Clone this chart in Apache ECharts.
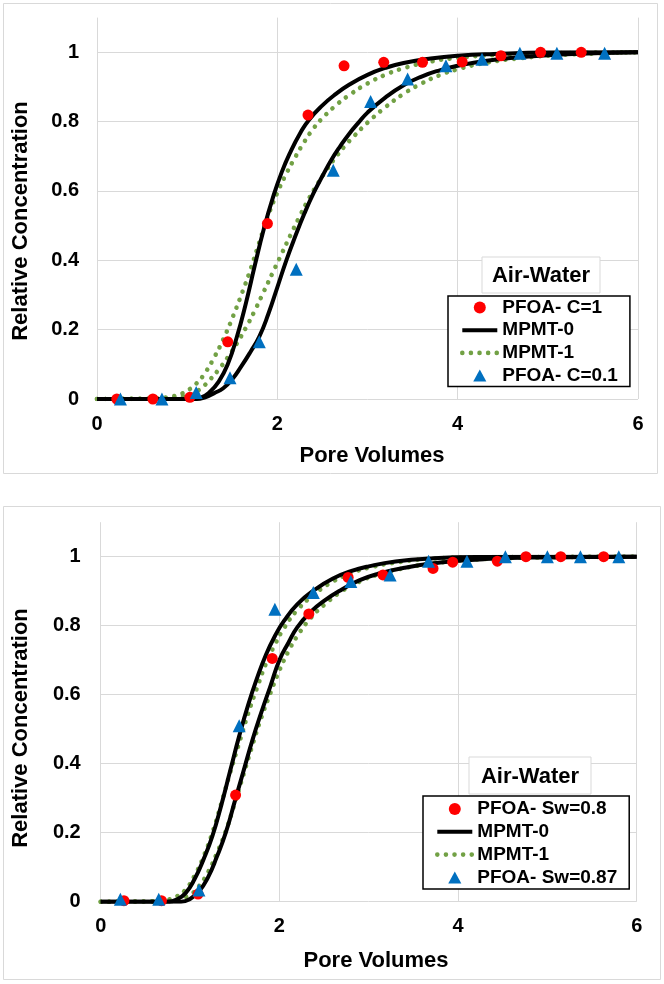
<!DOCTYPE html>
<html>
<head>
<meta charset="utf-8">
<script src="https://cdn.jsdelivr.net/npm/echarts@6/dist/echarts.min.js"></script>
<style>
html,body{margin:0;padding:0;background:#fff;}
#c{width:664px;height:984px;}
</style>
</head>
<body>
<div id="c"></div>
<script>
// ---------- DATA ----------
const xTicks = [0, 2, 4, 6];
const yTicks = [0, 0.2, 0.4, 0.6, 0.8, 1];

// Top panel
const topRedName = 'PFOA- C=1';
const topBlueName = 'PFOA- C=0.1';
const topRed = [[0.22,0.0],[0.62,0.0],[1.03,0.005],[1.45,0.165],[1.89,0.506],[2.34,0.819],[2.74,0.961],[3.18,0.971],[3.61,0.971],[4.05,0.972],[4.48,0.99],[4.92,1.0],[5.37,1.0]];
const topBlue = [[0.26,0.0],[0.72,0.0],[1.10,0.019],[1.475,0.061],[1.80,0.165],[2.21,0.374],[2.62,0.66],[3.035,0.858],[3.445,0.923],[3.87,0.961],[4.27,0.98],[4.69,0.997],[5.10,0.997],[5.63,0.997]];
const topM0a = [[0,0],[1.05,0],[1.15,0.004],[1.25,0.02],[1.35,0.05],[1.45,0.1],[1.55,0.178],[1.65,0.275],[1.75,0.385],[1.85,0.49],[1.95,0.58],[2.05,0.655],[2.15,0.715],[2.25,0.765],[2.35,0.805],[2.5,0.847],[2.65,0.88],[2.8,0.907],[3.0,0.935],[3.2,0.955],[3.4,0.969],[3.7,0.982],[4.0,0.99],[4.4,0.995],[5.0,0.999],[6,1]];
const topM1a = [[0,0],[0.6,0.001],[0.8,0.006],[0.9,0.012],[1.0,0.024],[1.1,0.044],[1.2,0.076],[1.3,0.12],[1.4,0.172],[1.5,0.233],[1.6,0.3],[1.7,0.372],[1.8,0.452],[1.9,0.53],[2.0,0.595],[2.1,0.65],[2.2,0.698],[2.3,0.742],[2.4,0.78],[2.5,0.81],[2.65,0.847],[2.8,0.877],[3.0,0.91],[3.2,0.935],[3.4,0.954],[3.7,0.973],[4.0,0.984],[4.4,0.992],[5.0,0.997],[6,1]];
const topM0b = [[0,0],[1.1,0],[1.2,0.005],[1.3,0.017],[1.4,0.031],[1.5,0.057],[1.6,0.094],[1.7,0.135],[1.8,0.18],[1.9,0.245],[2.0,0.322],[2.1,0.4],[2.2,0.47],[2.3,0.535],[2.4,0.593],[2.5,0.643],[2.6,0.69],[2.7,0.73],[2.8,0.766],[2.9,0.797],[3.0,0.826],[3.2,0.87],[3.4,0.905],[3.6,0.93],[3.8,0.948],[4.0,0.961],[4.3,0.975],[4.7,0.986],[5.2,0.994],[6,1]];
const topM1b = [[0,0],[0.8,0.002],[0.95,0.008],[1.05,0.014],[1.15,0.03],[1.25,0.055],[1.35,0.085],[1.45,0.12],[1.55,0.16],[1.65,0.205],[1.75,0.255],[1.85,0.31],[1.95,0.365],[2.05,0.42],[2.15,0.475],[2.25,0.528],[2.35,0.578],[2.45,0.622],[2.55,0.662],[2.65,0.698],[2.75,0.73],[2.85,0.758],[3.0,0.797],[3.2,0.842],[3.4,0.88],[3.6,0.91],[3.8,0.934],[4.0,0.951],[4.3,0.969],[4.7,0.983],[5.2,0.993],[6,1]];

// Bottom panel
const botRedName = 'PFOA- Sw=0.8';
const botBlueName = 'PFOA- Sw=0.87';
const botRed = [[0.26,0.003],[0.68,0.003],[1.09,0.022],[1.51,0.309],[1.92,0.705],[2.33,0.834],[2.77,0.94],[3.16,0.947],[3.72,0.966],[3.94,0.984],[4.44,0.987],[4.76,1.0],[5.15,1.0],[5.63,1.0]];
const botBlue = [[0.22,0.007],[0.65,0.007],[1.10,0.034],[1.55,0.51],[1.95,0.848],[2.38,0.896],[2.80,0.928],[3.24,0.947],[3.67,0.987],[4.10,0.987],[4.53,1.0],[5.0,1.0],[5.37,1.0],[5.80,1.0]];
const botM0a = [[0,0],[0.75,0],[0.85,0.006],[0.95,0.025],[1.05,0.065],[1.15,0.122],[1.25,0.19],[1.35,0.28],[1.45,0.38],[1.55,0.48],[1.65,0.57],[1.75,0.648],[1.85,0.716],[1.95,0.77],[2.05,0.813],[2.2,0.862],[2.4,0.905],[2.6,0.937],[2.8,0.958],[3.0,0.972],[3.3,0.986],[3.7,0.995],[4.2,0.999],[6,1]];
const botM1a = [[0,0],[0.6,0.001],[0.75,0.006],[0.85,0.015],[0.95,0.035],[1.05,0.075],[1.15,0.13],[1.25,0.2],[1.35,0.285],[1.45,0.375],[1.55,0.46],[1.65,0.545],[1.75,0.62],[1.85,0.69],[1.95,0.745],[2.05,0.792],[2.2,0.845],[2.4,0.893],[2.6,0.928],[2.8,0.952],[3.0,0.968],[3.3,0.983],[3.7,0.994],[4.2,0.998],[6,1]];
const botM0b = [[0,0],[0.9,0],[1.0,0.008],[1.1,0.03],[1.2,0.07],[1.3,0.13],[1.4,0.2],[1.5,0.29],[1.6,0.38],[1.7,0.47],[1.8,0.55],[1.9,0.625],[2.0,0.7],[2.1,0.75],[2.2,0.795],[2.35,0.84],[2.5,0.872],[2.7,0.905],[2.9,0.932],[3.1,0.95],[3.4,0.968],[3.8,0.983],[4.3,0.993],[5,0.998],[6,1]];
const botM1b = [[0,0],[0.7,0.001],[0.85,0.006],[1.0,0.02],[1.1,0.045],[1.2,0.085],[1.3,0.14],[1.4,0.205],[1.5,0.285],[1.6,0.37],[1.7,0.455],[1.8,0.535],[1.9,0.605],[2.0,0.67],[2.1,0.725],[2.2,0.77],[2.35,0.822],[2.5,0.86],[2.7,0.9],[2.9,0.928],[3.1,0.948],[3.4,0.967],[3.8,0.983],[4.3,0.993],[5,0.998],[6,1]];

const m0Name = 'MPMT-0';
const m1Name = 'MPMT-1';
const boxTitle = 'Air-Water';
const xTitle = 'Pore Volumes';
const yTitle = 'Relative Concentration';

// ---------- STYLE ----------
const FONT = '"Liberation Sans", Arial, Helvetica, sans-serif';
const RED = '#ff0000', BLUE = '#0070c0', GREEN = '#72a145', BLACK = '#000000';
const GRIDC = '#d9d9d9';
const DOTTED = { color: GREEN, width: 4.6, type: [0.01, 8.6], cap: 'round' };
const SOLID = { color: BLACK, width: 4 };
const NOFILL = { color: 'rgba(0,0,0,0)', opacity: 0, borderWidth: 0 };

function xAxis(gi) {
  return {
    type: 'value', gridIndex: gi, min: 0, max: 6, interval: 2,
    axisLine: { show: false }, axisTick: { show: false },
    splitLine: { show: true, lineStyle: { color: GRIDC, width: 1 } },
    axisLabel: { color: '#000', fontFamily: FONT, fontWeight: 'bold', fontSize: 20, margin: 15,
      formatter: v => (xTicks.indexOf(v) >= 0 ? String(v) : '') }
  };
}
function yAxis(gi, margin) {
  return {
    type: 'value', gridIndex: gi, min: 0, max: 1.1, interval: 0.2,
    axisLine: { show: false }, axisTick: { show: false },
    splitLine: { show: true, lineStyle: { color: [GRIDC, GRIDC, GRIDC, GRIDC, GRIDC, GRIDC, 'rgba(0,0,0,0)'], width: 1 } },
    axisLabel: { color: '#000', fontFamily: FONT, fontWeight: 'bold', fontSize: 20, margin: margin,
      formatter: v => { const t = yTicks.find(k => Math.abs(k - v) < 1e-6); return t === undefined ? '' : String(t); } }
  };
}
function lineSeries(name, data, gi, dotted) {
  return {
    type: 'line', name: name, data: data, xAxisIndex: gi, yAxisIndex: gi,
    showSymbol: false, symbol: 'none', smooth: 0.5,
    lineStyle: dotted ? DOTTED : SOLID,
    itemStyle: { color: dotted ? GREEN : BLACK },
    z: dotted ? 2 : 3, silent: true, animation: false
  };
}
function scatterSeries(name, data, gi, tri) {
  return {
    type: 'scatter', name: name, data: data, xAxisIndex: gi, yAxisIndex: gi,
    symbol: tri ? 'triangle' : 'circle', symbolSize: tri ? 13 : 11, symbolKeepAspect: true,
    itemStyle: { color: tri ? BLUE : RED, opacity: 1 },
    z: 5, silent: true, animation: false
  };
}
function legend(left, top, redName, blueName, pad, gap) {
  return {
    show: true, orient: 'vertical', left: left, top: top, padding: pad, itemGap: gap,
    itemWidth: 35, itemHeight: 12, selectedMode: false, symbolKeepAspect: true,
    borderColor: '#000', borderWidth: 1.5, backgroundColor: '#fff',
    data: [
      { name: redName, icon: 'circle' },
      { name: m0Name, itemStyle: NOFILL, lineStyle: SOLID },
      { name: m1Name, itemStyle: NOFILL, lineStyle: DOTTED },
      { name: blueName, icon: 'path://M6,0 L12,11 L0,11 Z' }
    ],
    textStyle: { color: '#000', fontFamily: FONT, fontWeight: 'bold', fontSize: 19, lineHeight: 19 }
  };
}
function titleBox(x, y, w, h) {
  return [
    { type: 'rect', shape: { x: x, y: y, width: w, height: h }, style: { fill: '#fff', stroke: GRIDC, lineWidth: 1 }, z: 10 },
    { type: 'text', x: x + w / 2, y: y + h / 2 + 1, style: { text: boxTitle, font: 'bold 22px ' + FONT, fill: '#000', align: 'center', verticalAlign: 'middle' }, z: 11 }
  ];
}

const chart = echarts.init(document.getElementById('c'), null, { renderer: 'canvas' });
chart.setOption({
  backgroundColor: '#ffffff',
  animation: false,
  grid: [
    { left: 97, top: 17.6, width: 541, height: 381.4 },
    { left: 100.7, top: 522.2, width: 536, height: 379.5 }
  ],
  xAxis: [xAxis(0), xAxis(1)],
  yAxis: [yAxis(0, 18), yAxis(1, 20)],
  legend: [
    legend(448, 296, topRedName, topBlueName, [2, 12, 1.5, 12], 3.7),
    legend(423, 796, botRedName, botBlueName, [3.5, 12, 2, 12], 3.8)
  ],
  graphic: [
    { type: 'rect', shape: { x: 3.5, y: 3.5, width: 654, height: 470 }, style: { fill: 'none', stroke: GRIDC, lineWidth: 1 }, z: -10, silent: true },
    { type: 'rect', shape: { x: 3.5, y: 506.5, width: 657, height: 473 }, style: { fill: 'none', stroke: GRIDC, lineWidth: 1 }, z: -10, silent: true },
    ...titleBox(482, 257, 118, 36),
    ...titleBox(469, 757, 122, 37),
    { type: 'text', x: 21, y: 221, rotation: Math.PI / 2, style: { text: yTitle, font: 'bold 22px ' + FONT, fill: '#000', align: 'center', verticalAlign: 'middle' } },
    { type: 'text', x: 21, y: 728, rotation: Math.PI / 2, style: { text: yTitle, font: 'bold 22px ' + FONT, fill: '#000', align: 'center', verticalAlign: 'middle' } },
    { type: 'text', x: 372, y: 456, style: { text: xTitle, font: 'bold 22px ' + FONT, fill: '#000', align: 'center', verticalAlign: 'middle' } },
    { type: 'text', x: 376, y: 961, style: { text: xTitle, font: 'bold 22px ' + FONT, fill: '#000', align: 'center', verticalAlign: 'middle' } }
  ],
  series: [
    lineSeries(m1Name, topM1a, 0, true),
    lineSeries(m1Name, topM1b, 0, true),
    lineSeries(m0Name, topM0a, 0, false),
    lineSeries(m0Name, topM0b, 0, false),
    scatterSeries(topRedName, topRed, 0, false),
    scatterSeries(topBlueName, topBlue, 0, true),
    lineSeries(m1Name, botM1a, 1, true),
    lineSeries(m1Name, botM1b, 1, true),
    lineSeries(m0Name, botM0a, 1, false),
    lineSeries(m0Name, botM0b, 1, false),
    scatterSeries(botRedName, botRed, 1, false),
    scatterSeries(botBlueName, botBlue, 1, true)
  ]
});
</script>
</body>
</html>
